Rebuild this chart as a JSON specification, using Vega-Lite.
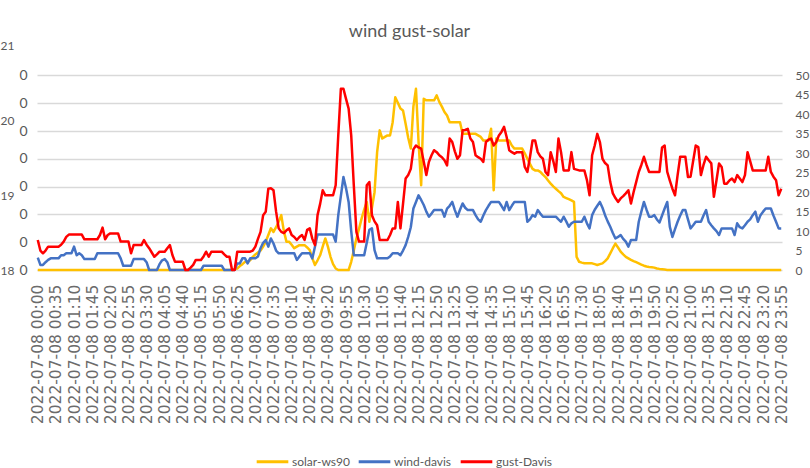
{
"$schema": "https://vega.github.io/schema/vega-lite/v6.json",
"width": 745, "height": 225,
"autosize": {"type": "none"},
"padding": {"left": 37, "top": 45, "right": 28, "bottom": 198},
"background": "white",
"title": {"text": "wind gust-solar", "font": "Lato", "fontSize": 18, "fontWeight": "normal", "color": "#595959", "anchor": "middle", "offset": -2},
"config": {"view": {"stroke": null}, "font": "Lato"},
"data": {"values": [
{"t":"2022-07-08 00:00","solar-ws90":0,"wind-davis":3.2,"gust-Davis":7.7},
{"t":"2022-07-08 00:05","solar-ws90":0,"wind-davis":1.3,"gust-Davis":5},
{"t":"2022-07-08 00:10","solar-ws90":0,"wind-davis":1.3,"gust-Davis":4.3},
{"t":"2022-07-08 00:15","solar-ws90":0,"wind-davis":2,"gust-Davis":5},
{"t":"2022-07-08 00:20","solar-ws90":0,"wind-davis":2.6,"gust-Davis":6},
{"t":"2022-07-08 00:25","solar-ws90":0,"wind-davis":3,"gust-Davis":6},
{"t":"2022-07-08 00:30","solar-ws90":0,"wind-davis":3,"gust-Davis":6},
{"t":"2022-07-08 00:35","solar-ws90":0,"wind-davis":3,"gust-Davis":6},
{"t":"2022-07-08 00:40","solar-ws90":0,"wind-davis":3,"gust-Davis":6},
{"t":"2022-07-08 00:45","solar-ws90":0,"wind-davis":3.8,"gust-Davis":6.5},
{"t":"2022-07-08 00:50","solar-ws90":0,"wind-davis":3.8,"gust-Davis":7.3},
{"t":"2022-07-08 00:55","solar-ws90":0,"wind-davis":4.3,"gust-Davis":8.5},
{"t":"2022-07-08 01:00","solar-ws90":0,"wind-davis":4.3,"gust-Davis":9.1},
{"t":"2022-07-08 01:05","solar-ws90":0,"wind-davis":4.3,"gust-Davis":9.1},
{"t":"2022-07-08 01:10","solar-ws90":0,"wind-davis":6,"gust-Davis":9.1},
{"t":"2022-07-08 01:15","solar-ws90":0,"wind-davis":3.8,"gust-Davis":9.1},
{"t":"2022-07-08 01:20","solar-ws90":0,"wind-davis":4.3,"gust-Davis":9.1},
{"t":"2022-07-08 01:25","solar-ws90":0,"wind-davis":3.8,"gust-Davis":9.1},
{"t":"2022-07-08 01:30","solar-ws90":0,"wind-davis":2.8,"gust-Davis":7.9},
{"t":"2022-07-08 01:35","solar-ws90":0,"wind-davis":2.8,"gust-Davis":7.9},
{"t":"2022-07-08 01:40","solar-ws90":0,"wind-davis":2.8,"gust-Davis":7.9},
{"t":"2022-07-08 01:45","solar-ws90":0,"wind-davis":2.8,"gust-Davis":7.9},
{"t":"2022-07-08 01:50","solar-ws90":0,"wind-davis":2.8,"gust-Davis":7.9},
{"t":"2022-07-08 01:55","solar-ws90":0,"wind-davis":4.3,"gust-Davis":7.9},
{"t":"2022-07-08 02:00","solar-ws90":0,"wind-davis":4.3,"gust-Davis":9},
{"t":"2022-07-08 02:05","solar-ws90":0,"wind-davis":4.3,"gust-Davis":10.9},
{"t":"2022-07-08 02:10","solar-ws90":0,"wind-davis":4.3,"gust-Davis":7.9},
{"t":"2022-07-08 02:15","solar-ws90":0,"wind-davis":4.3,"gust-Davis":9},
{"t":"2022-07-08 02:20","solar-ws90":0,"wind-davis":4.3,"gust-Davis":9.4},
{"t":"2022-07-08 02:25","solar-ws90":0,"wind-davis":4.3,"gust-Davis":9.4},
{"t":"2022-07-08 02:30","solar-ws90":0,"wind-davis":4.3,"gust-Davis":9.4},
{"t":"2022-07-08 02:35","solar-ws90":0,"wind-davis":4.3,"gust-Davis":9.4},
{"t":"2022-07-08 02:40","solar-ws90":0,"wind-davis":3,"gust-Davis":7.3},
{"t":"2022-07-08 02:45","solar-ws90":0,"wind-davis":1.1,"gust-Davis":7.3},
{"t":"2022-07-08 02:50","solar-ws90":0,"wind-davis":1.1,"gust-Davis":7.3},
{"t":"2022-07-08 02:55","solar-ws90":0,"wind-davis":1.1,"gust-Davis":7.3},
{"t":"2022-07-08 03:00","solar-ws90":0,"wind-davis":1.1,"gust-Davis":4.3},
{"t":"2022-07-08 03:05","solar-ws90":0,"wind-davis":2.8,"gust-Davis":6.4},
{"t":"2022-07-08 03:10","solar-ws90":0,"wind-davis":2.8,"gust-Davis":6.4},
{"t":"2022-07-08 03:15","solar-ws90":0,"wind-davis":2.8,"gust-Davis":6.4},
{"t":"2022-07-08 03:20","solar-ws90":0,"wind-davis":2.8,"gust-Davis":6.4},
{"t":"2022-07-08 03:25","solar-ws90":0,"wind-davis":2.8,"gust-Davis":7.7},
{"t":"2022-07-08 03:30","solar-ws90":0,"wind-davis":2,"gust-Davis":6.5},
{"t":"2022-07-08 03:35","solar-ws90":0,"wind-davis":0,"gust-Davis":5.6},
{"t":"2022-07-08 03:40","solar-ws90":0,"wind-davis":0,"gust-Davis":4.5},
{"t":"2022-07-08 03:45","solar-ws90":0,"wind-davis":0,"gust-Davis":3.4},
{"t":"2022-07-08 03:50","solar-ws90":0,"wind-davis":0,"gust-Davis":4},
{"t":"2022-07-08 03:55","solar-ws90":0,"wind-davis":1.5,"gust-Davis":4.7},
{"t":"2022-07-08 04:00","solar-ws90":0,"wind-davis":2.5,"gust-Davis":4.7},
{"t":"2022-07-08 04:05","solar-ws90":0,"wind-davis":2.8,"gust-Davis":4.7},
{"t":"2022-07-08 04:10","solar-ws90":0,"wind-davis":2,"gust-Davis":5.6},
{"t":"2022-07-08 04:15","solar-ws90":0,"wind-davis":0,"gust-Davis":6.4},
{"t":"2022-07-08 04:20","solar-ws90":0,"wind-davis":0,"gust-Davis":3.8},
{"t":"2022-07-08 04:25","solar-ws90":0,"wind-davis":0,"gust-Davis":2.1},
{"t":"2022-07-08 04:30","solar-ws90":0,"wind-davis":0,"gust-Davis":2.1},
{"t":"2022-07-08 04:35","solar-ws90":0,"wind-davis":0,"gust-Davis":2.1},
{"t":"2022-07-08 04:40","solar-ws90":0,"wind-davis":0,"gust-Davis":2.1},
{"t":"2022-07-08 04:45","solar-ws90":0,"wind-davis":0,"gust-Davis":0},
{"t":"2022-07-08 04:50","solar-ws90":0,"wind-davis":0,"gust-Davis":0},
{"t":"2022-07-08 04:55","solar-ws90":0,"wind-davis":0,"gust-Davis":0.6},
{"t":"2022-07-08 05:00","solar-ws90":0,"wind-davis":0,"gust-Davis":1.3},
{"t":"2022-07-08 05:05","solar-ws90":0,"wind-davis":0,"gust-Davis":2.6},
{"t":"2022-07-08 05:10","solar-ws90":0,"wind-davis":0,"gust-Davis":2.6},
{"t":"2022-07-08 05:15","solar-ws90":0,"wind-davis":0,"gust-Davis":2.6},
{"t":"2022-07-08 05:20","solar-ws90":0,"wind-davis":1.1,"gust-Davis":3.5},
{"t":"2022-07-08 05:25","solar-ws90":0,"wind-davis":1.1,"gust-Davis":4.7},
{"t":"2022-07-08 05:30","solar-ws90":0,"wind-davis":1.1,"gust-Davis":3.4},
{"t":"2022-07-08 05:35","solar-ws90":0,"wind-davis":1.1,"gust-Davis":4.7},
{"t":"2022-07-08 05:40","solar-ws90":0,"wind-davis":1.1,"gust-Davis":4.7},
{"t":"2022-07-08 05:45","solar-ws90":0,"wind-davis":1.1,"gust-Davis":4.7},
{"t":"2022-07-08 05:50","solar-ws90":0,"wind-davis":1.1,"gust-Davis":4.7},
{"t":"2022-07-08 05:55","solar-ws90":0,"wind-davis":1.1,"gust-Davis":4.7},
{"t":"2022-07-08 06:00","solar-ws90":0,"wind-davis":0,"gust-Davis":4},
{"t":"2022-07-08 06:05","solar-ws90":0,"wind-davis":0,"gust-Davis":3.4},
{"t":"2022-07-08 06:10","solar-ws90":0,"wind-davis":0,"gust-Davis":3.4},
{"t":"2022-07-08 06:15","solar-ws90":0,"wind-davis":0,"gust-Davis":0},
{"t":"2022-07-08 06:20","solar-ws90":6,"wind-davis":0,"gust-Davis":0},
{"t":"2022-07-08 06:25","solar-ws90":11,"wind-davis":1.7,"gust-Davis":4.7},
{"t":"2022-07-08 06:30","solar-ws90":28,"wind-davis":1.7,"gust-Davis":4.7},
{"t":"2022-07-08 06:35","solar-ws90":42,"wind-davis":3,"gust-Davis":4.7},
{"t":"2022-07-08 06:40","solar-ws90":59,"wind-davis":3,"gust-Davis":4.7},
{"t":"2022-07-08 06:45","solar-ws90":59,"wind-davis":1.7,"gust-Davis":4.7},
{"t":"2022-07-08 06:50","solar-ws90":70,"wind-davis":3,"gust-Davis":4.7},
{"t":"2022-07-08 06:55","solar-ws90":95,"wind-davis":3,"gust-Davis":5},
{"t":"2022-07-08 07:00","solar-ws90":112,"wind-davis":3,"gust-Davis":6},
{"t":"2022-07-08 07:05","solar-ws90":126,"wind-davis":3.5,"gust-Davis":8},
{"t":"2022-07-08 07:10","solar-ws90":140,"wind-davis":5.6,"gust-Davis":9.8},
{"t":"2022-07-08 07:15","solar-ws90":168,"wind-davis":7,"gust-Davis":14.1},
{"t":"2022-07-08 07:20","solar-ws90":204,"wind-davis":7.7,"gust-Davis":15},
{"t":"2022-07-08 07:25","solar-ws90":252,"wind-davis":6,"gust-Davis":20.9},
{"t":"2022-07-08 07:30","solar-ws90":300,"wind-davis":8.1,"gust-Davis":21},
{"t":"2022-07-08 07:35","solar-ws90":274,"wind-davis":6.8,"gust-Davis":20.5},
{"t":"2022-07-08 07:40","solar-ws90":308,"wind-davis":5,"gust-Davis":15},
{"t":"2022-07-08 07:45","solar-ws90":347,"wind-davis":4.3,"gust-Davis":10.7},
{"t":"2022-07-08 07:50","solar-ws90":395,"wind-davis":4.3,"gust-Davis":9.8},
{"t":"2022-07-08 07:55","solar-ws90":280,"wind-davis":4.3,"gust-Davis":9.5},
{"t":"2022-07-08 08:00","solar-ws90":204,"wind-davis":4.3,"gust-Davis":10.2},
{"t":"2022-07-08 08:05","solar-ws90":204,"wind-davis":4.3,"gust-Davis":10.7},
{"t":"2022-07-08 08:10","solar-ws90":182,"wind-davis":4.3,"gust-Davis":9},
{"t":"2022-07-08 08:15","solar-ws90":157,"wind-davis":4.3,"gust-Davis":8.5},
{"t":"2022-07-08 08:20","solar-ws90":168,"wind-davis":2.6,"gust-Davis":7.7},
{"t":"2022-07-08 08:25","solar-ws90":179,"wind-davis":3.5,"gust-Davis":8.5},
{"t":"2022-07-08 08:30","solar-ws90":179,"wind-davis":4.3,"gust-Davis":9},
{"t":"2022-07-08 08:35","solar-ws90":179,"wind-davis":4.3,"gust-Davis":7.7},
{"t":"2022-07-08 08:40","solar-ws90":162,"wind-davis":4.3,"gust-Davis":10.3},
{"t":"2022-07-08 08:45","solar-ws90":143,"wind-davis":4.3,"gust-Davis":10.7},
{"t":"2022-07-08 08:50","solar-ws90":84,"wind-davis":3,"gust-Davis":8},
{"t":"2022-07-08 08:55","solar-ws90":36,"wind-davis":6,"gust-Davis":6.4},
{"t":"2022-07-08 09:00","solar-ws90":70,"wind-davis":9.1,"gust-Davis":14.1},
{"t":"2022-07-08 09:05","solar-ws90":106,"wind-davis":9.1,"gust-Davis":17},
{"t":"2022-07-08 09:10","solar-ws90":168,"wind-davis":9.1,"gust-Davis":20.5},
{"t":"2022-07-08 09:15","solar-ws90":227,"wind-davis":9.1,"gust-Davis":19.2},
{"t":"2022-07-08 09:20","solar-ws90":168,"wind-davis":9.1,"gust-Davis":19.2},
{"t":"2022-07-08 09:25","solar-ws90":95,"wind-davis":9.1,"gust-Davis":19.2},
{"t":"2022-07-08 09:30","solar-ws90":42,"wind-davis":9.1,"gust-Davis":19.2},
{"t":"2022-07-08 09:35","solar-ws90":11,"wind-davis":7.3,"gust-Davis":21.8},
{"t":"2022-07-08 09:40","solar-ws90":0,"wind-davis":14.1,"gust-Davis":34.6},
{"t":"2022-07-08 09:45","solar-ws90":0,"wind-davis":19,"gust-Davis":46.6},
{"t":"2022-07-08 09:50","solar-ws90":0,"wind-davis":23.9,"gust-Davis":46.6},
{"t":"2022-07-08 09:55","solar-ws90":0,"wind-davis":21,"gust-Davis":44},
{"t":"2022-07-08 10:00","solar-ws90":0,"wind-davis":17.5,"gust-Davis":41.5},
{"t":"2022-07-08 10:05","solar-ws90":59,"wind-davis":10,"gust-Davis":34.6},
{"t":"2022-07-08 10:10","solar-ws90":140,"wind-davis":3.8,"gust-Davis":21.8},
{"t":"2022-07-08 10:15","solar-ws90":227,"wind-davis":3.8,"gust-Davis":9.8},
{"t":"2022-07-08 10:20","solar-ws90":294,"wind-davis":3.8,"gust-Davis":7.3},
{"t":"2022-07-08 10:25","solar-ws90":370,"wind-davis":3.8,"gust-Davis":7.3},
{"t":"2022-07-08 10:30","solar-ws90":434,"wind-davis":3.8,"gust-Davis":7.3},
{"t":"2022-07-08 10:35","solar-ws90":490,"wind-davis":7,"gust-Davis":21.8},
{"t":"2022-07-08 10:40","solar-ws90":347,"wind-davis":10.3,"gust-Davis":22.6},
{"t":"2022-07-08 10:45","solar-ws90":448,"wind-davis":10.7,"gust-Davis":14.1},
{"t":"2022-07-08 10:50","solar-ws90":560,"wind-davis":5.1,"gust-Davis":12.5},
{"t":"2022-07-08 10:55","solar-ws90":848,"wind-davis":3,"gust-Davis":11.5},
{"t":"2022-07-08 11:00","solar-ws90":1005,"wind-davis":3,"gust-Davis":7.7},
{"t":"2022-07-08 11:05","solar-ws90":946,"wind-davis":3,"gust-Davis":7.7},
{"t":"2022-07-08 11:10","solar-ws90":958,"wind-davis":3,"gust-Davis":7.7},
{"t":"2022-07-08 11:15","solar-ws90":969,"wind-davis":3,"gust-Davis":7.7},
{"t":"2022-07-08 11:20","solar-ws90":969,"wind-davis":3.5,"gust-Davis":9},
{"t":"2022-07-08 11:25","solar-ws90":1064,"wind-davis":4.3,"gust-Davis":10.7},
{"t":"2022-07-08 11:30","solar-ws90":1243,"wind-davis":4.3,"gust-Davis":10.7},
{"t":"2022-07-08 11:35","solar-ws90":1204,"wind-davis":4.3,"gust-Davis":17.5},
{"t":"2022-07-08 11:40","solar-ws90":1162,"wind-davis":3.8,"gust-Davis":10.7},
{"t":"2022-07-08 11:45","solar-ws90":1148,"wind-davis":5,"gust-Davis":17},
{"t":"2022-07-08 11:50","solar-ws90":1053,"wind-davis":6.4,"gust-Davis":23.5},
{"t":"2022-07-08 11:55","solar-ws90":952,"wind-davis":8.5,"gust-Davis":24.4},
{"t":"2022-07-08 12:00","solar-ws90":874,"wind-davis":11,"gust-Davis":26},
{"t":"2022-07-08 12:05","solar-ws90":1176,"wind-davis":15.8,"gust-Davis":31},
{"t":"2022-07-08 12:10","solar-ws90":1305,"wind-davis":17.5,"gust-Davis":32},
{"t":"2022-07-08 12:15","solar-ws90":921,"wind-davis":19.2,"gust-Davis":31.5},
{"t":"2022-07-08 12:20","solar-ws90":610,"wind-davis":18,"gust-Davis":31.2},
{"t":"2022-07-08 12:25","solar-ws90":1232,"wind-davis":16.7,"gust-Davis":27.8},
{"t":"2022-07-08 12:30","solar-ws90":1221,"wind-davis":15,"gust-Davis":24.4},
{"t":"2022-07-08 12:35","solar-ws90":1221,"wind-davis":13.7,"gust-Davis":27.8},
{"t":"2022-07-08 12:40","solar-ws90":1221,"wind-davis":14.5,"gust-Davis":29.5},
{"t":"2022-07-08 12:45","solar-ws90":1221,"wind-davis":15.4,"gust-Davis":30.8},
{"t":"2022-07-08 12:50","solar-ws90":1257,"wind-davis":15.4,"gust-Davis":30.3},
{"t":"2022-07-08 12:55","solar-ws90":1210,"wind-davis":15.4,"gust-Davis":29.5},
{"t":"2022-07-08 13:00","solar-ws90":1176,"wind-davis":15.4,"gust-Davis":29},
{"t":"2022-07-08 13:05","solar-ws90":1137,"wind-davis":13.7,"gust-Davis":28.2},
{"t":"2022-07-08 13:10","solar-ws90":1112,"wind-davis":15.8,"gust-Davis":26.9},
{"t":"2022-07-08 13:15","solar-ws90":1064,"wind-davis":16.5,"gust-Davis":33.8},
{"t":"2022-07-08 13:20","solar-ws90":1064,"wind-davis":17.5,"gust-Davis":32.9},
{"t":"2022-07-08 13:25","solar-ws90":1064,"wind-davis":15.4,"gust-Davis":30.5},
{"t":"2022-07-08 13:30","solar-ws90":1064,"wind-davis":13.7,"gust-Davis":28.6},
{"t":"2022-07-08 13:35","solar-ws90":1064,"wind-davis":15.5,"gust-Davis":29.5},
{"t":"2022-07-08 13:40","solar-ws90":980,"wind-davis":17.1,"gust-Davis":35.9},
{"t":"2022-07-08 13:45","solar-ws90":980,"wind-davis":16,"gust-Davis":36},
{"t":"2022-07-08 13:50","solar-ws90":980,"wind-davis":15.4,"gust-Davis":36.3},
{"t":"2022-07-08 13:55","solar-ws90":980,"wind-davis":15.4,"gust-Davis":33.8},
{"t":"2022-07-08 14:00","solar-ws90":980,"wind-davis":15.4,"gust-Davis":32.9},
{"t":"2022-07-08 14:05","solar-ws90":980,"wind-davis":14.1,"gust-Davis":29.5},
{"t":"2022-07-08 14:10","solar-ws90":969,"wind-davis":13,"gust-Davis":29},
{"t":"2022-07-08 14:15","solar-ws90":958,"wind-davis":12.4,"gust-Davis":28.6},
{"t":"2022-07-08 14:20","solar-ws90":932,"wind-davis":14,"gust-Davis":27.8},
{"t":"2022-07-08 14:25","solar-ws90":932,"wind-davis":15.4,"gust-Davis":32.9},
{"t":"2022-07-08 14:30","solar-ws90":932,"wind-davis":16.5,"gust-Davis":33.5},
{"t":"2022-07-08 14:35","solar-ws90":1016,"wind-davis":17.5,"gust-Davis":33.8},
{"t":"2022-07-08 14:40","solar-ws90":574,"wind-davis":17.5,"gust-Davis":32},
{"t":"2022-07-08 14:45","solar-ws90":946,"wind-davis":17.5,"gust-Davis":32.9},
{"t":"2022-07-08 14:50","solar-ws90":932,"wind-davis":17.5,"gust-Davis":34.6},
{"t":"2022-07-08 14:55","solar-ws90":932,"wind-davis":16.5,"gust-Davis":35.5},
{"t":"2022-07-08 15:00","solar-ws90":932,"wind-davis":15.4,"gust-Davis":36.8},
{"t":"2022-07-08 15:05","solar-ws90":932,"wind-davis":17.5,"gust-Davis":34.2},
{"t":"2022-07-08 15:10","solar-ws90":932,"wind-davis":15.4,"gust-Davis":30.8},
{"t":"2022-07-08 15:15","solar-ws90":896,"wind-davis":16.5,"gust-Davis":30.3},
{"t":"2022-07-08 15:20","solar-ws90":874,"wind-davis":17.5,"gust-Davis":29.9},
{"t":"2022-07-08 15:25","solar-ws90":874,"wind-davis":17.5,"gust-Davis":30.3},
{"t":"2022-07-08 15:30","solar-ws90":874,"wind-davis":17.5,"gust-Davis":30.3},
{"t":"2022-07-08 15:35","solar-ws90":874,"wind-davis":17.5,"gust-Davis":30.3},
{"t":"2022-07-08 15:40","solar-ws90":840,"wind-davis":17.5,"gust-Davis":26.5},
{"t":"2022-07-08 15:45","solar-ws90":801,"wind-davis":12.4,"gust-Davis":25.2},
{"t":"2022-07-08 15:50","solar-ws90":764,"wind-davis":13,"gust-Davis":29},
{"t":"2022-07-08 15:55","solar-ws90":728,"wind-davis":14.1,"gust-Davis":33.3},
{"t":"2022-07-08 16:00","solar-ws90":717,"wind-davis":13.7,"gust-Davis":33.3},
{"t":"2022-07-08 16:05","solar-ws90":717,"wind-davis":15.4,"gust-Davis":30.3},
{"t":"2022-07-08 16:10","solar-ws90":706,"wind-davis":14.5,"gust-Davis":29.2},
{"t":"2022-07-08 16:15","solar-ws90":686,"wind-davis":13.7,"gust-Davis":28.6},
{"t":"2022-07-08 16:20","solar-ws90":669,"wind-davis":13.7,"gust-Davis":25.2},
{"t":"2022-07-08 16:25","solar-ws90":644,"wind-davis":13.7,"gust-Davis":24.4},
{"t":"2022-07-08 16:30","solar-ws90":622,"wind-davis":13.7,"gust-Davis":30.3},
{"t":"2022-07-08 16:35","solar-ws90":602,"wind-davis":13.7,"gust-Davis":28},
{"t":"2022-07-08 16:40","solar-ws90":585,"wind-davis":13.7,"gust-Davis":25.2},
{"t":"2022-07-08 16:45","solar-ws90":568,"wind-davis":13,"gust-Davis":33.8},
{"t":"2022-07-08 16:50","solar-ws90":552,"wind-davis":12.4,"gust-Davis":30.3},
{"t":"2022-07-08 16:55","solar-ws90":526,"wind-davis":13.7,"gust-Davis":25.6},
{"t":"2022-07-08 17:00","solar-ws90":518,"wind-davis":12.5,"gust-Davis":25.6},
{"t":"2022-07-08 17:05","solar-ws90":510,"wind-davis":11.1,"gust-Davis":25.6},
{"t":"2022-07-08 17:10","solar-ws90":501,"wind-davis":12,"gust-Davis":30.3},
{"t":"2022-07-08 17:15","solar-ws90":490,"wind-davis":12.4,"gust-Davis":26},
{"t":"2022-07-08 17:20","solar-ws90":95,"wind-davis":12.4,"gust-Davis":25.8},
{"t":"2022-07-08 17:25","solar-ws90":59,"wind-davis":12.4,"gust-Davis":25.6},
{"t":"2022-07-08 17:30","solar-ws90":53,"wind-davis":12.4,"gust-Davis":25.6},
{"t":"2022-07-08 17:35","solar-ws90":48,"wind-davis":13.7,"gust-Davis":25.6},
{"t":"2022-07-08 17:40","solar-ws90":48,"wind-davis":12,"gust-Davis":23.1},
{"t":"2022-07-08 17:45","solar-ws90":48,"wind-davis":10.7,"gust-Davis":19.2},
{"t":"2022-07-08 17:50","solar-ws90":48,"wind-davis":14.1,"gust-Davis":29.5},
{"t":"2022-07-08 17:55","solar-ws90":42,"wind-davis":15.5,"gust-Davis":32},
{"t":"2022-07-08 18:00","solar-ws90":36,"wind-davis":16.5,"gust-Davis":35},
{"t":"2022-07-08 18:05","solar-ws90":42,"wind-davis":17.5,"gust-Davis":32.9},
{"t":"2022-07-08 18:10","solar-ws90":48,"wind-davis":16,"gust-Davis":28.6},
{"t":"2022-07-08 18:15","solar-ws90":64,"wind-davis":14.1,"gust-Davis":27.5},
{"t":"2022-07-08 18:20","solar-ws90":84,"wind-davis":12.5,"gust-Davis":26.9},
{"t":"2022-07-08 18:25","solar-ws90":120,"wind-davis":11.1,"gust-Davis":22.6},
{"t":"2022-07-08 18:30","solar-ws90":157,"wind-davis":9.5,"gust-Davis":19.7},
{"t":"2022-07-08 18:35","solar-ws90":190,"wind-davis":8.1,"gust-Davis":18.5},
{"t":"2022-07-08 18:40","solar-ws90":162,"wind-davis":8.5,"gust-Davis":17.5},
{"t":"2022-07-08 18:45","solar-ws90":132,"wind-davis":9,"gust-Davis":18.4},
{"t":"2022-07-08 18:50","solar-ws90":112,"wind-davis":8,"gust-Davis":19},
{"t":"2022-07-08 18:55","solar-ws90":95,"wind-davis":7.3,"gust-Davis":19.7},
{"t":"2022-07-08 19:00","solar-ws90":84,"wind-davis":6,"gust-Davis":20.5},
{"t":"2022-07-08 19:05","solar-ws90":73,"wind-davis":7.7,"gust-Davis":17.1},
{"t":"2022-07-08 19:10","solar-ws90":64,"wind-davis":7.7,"gust-Davis":20},
{"t":"2022-07-08 19:15","solar-ws90":56,"wind-davis":7.7,"gust-Davis":22.6},
{"t":"2022-07-08 19:20","solar-ws90":48,"wind-davis":12.4,"gust-Davis":25.2},
{"t":"2022-07-08 19:25","solar-ws90":39,"wind-davis":15,"gust-Davis":27},
{"t":"2022-07-08 19:30","solar-ws90":31,"wind-davis":17.5,"gust-Davis":29.1},
{"t":"2022-07-08 19:35","solar-ws90":25,"wind-davis":15.5,"gust-Davis":27},
{"t":"2022-07-08 19:40","solar-ws90":22,"wind-davis":13.7,"gust-Davis":25.2},
{"t":"2022-07-08 19:45","solar-ws90":20,"wind-davis":13.7,"gust-Davis":25.2},
{"t":"2022-07-08 19:50","solar-ws90":17,"wind-davis":14.1,"gust-Davis":25.2},
{"t":"2022-07-08 19:55","solar-ws90":11,"wind-davis":13,"gust-Davis":25.2},
{"t":"2022-07-08 20:00","solar-ws90":8,"wind-davis":12.2,"gust-Davis":25.2},
{"t":"2022-07-08 20:05","solar-ws90":6,"wind-davis":14,"gust-Davis":31.5},
{"t":"2022-07-08 20:10","solar-ws90":3,"wind-davis":15.8,"gust-Davis":32},
{"t":"2022-07-08 20:15","solar-ws90":0,"wind-davis":17.5,"gust-Davis":25.2},
{"t":"2022-07-08 20:20","solar-ws90":0,"wind-davis":11.1,"gust-Davis":23},
{"t":"2022-07-08 20:25","solar-ws90":0,"wind-davis":8.5,"gust-Davis":20.9},
{"t":"2022-07-08 20:30","solar-ws90":0,"wind-davis":10.5,"gust-Davis":19.2},
{"t":"2022-07-08 20:35","solar-ws90":0,"wind-davis":12.4,"gust-Davis":24.4},
{"t":"2022-07-08 20:40","solar-ws90":0,"wind-davis":14,"gust-Davis":29.1},
{"t":"2022-07-08 20:45","solar-ws90":0,"wind-davis":15.4,"gust-Davis":29.1},
{"t":"2022-07-08 20:50","solar-ws90":0,"wind-davis":15.4,"gust-Davis":29.1},
{"t":"2022-07-08 20:55","solar-ws90":0,"wind-davis":13,"gust-Davis":23.9},
{"t":"2022-07-08 21:00","solar-ws90":0,"wind-davis":10.7,"gust-Davis":24},
{"t":"2022-07-08 21:05","solar-ws90":0,"wind-davis":11.5,"gust-Davis":28},
{"t":"2022-07-08 21:10","solar-ws90":0,"wind-davis":12.4,"gust-Davis":32},
{"t":"2022-07-08 21:15","solar-ws90":0,"wind-davis":12.4,"gust-Davis":31.6},
{"t":"2022-07-08 21:20","solar-ws90":0,"wind-davis":12.4,"gust-Davis":24.4},
{"t":"2022-07-08 21:25","solar-ws90":0,"wind-davis":14,"gust-Davis":27},
{"t":"2022-07-08 21:30","solar-ws90":0,"wind-davis":15.4,"gust-Davis":29.1},
{"t":"2022-07-08 21:35","solar-ws90":0,"wind-davis":12.4,"gust-Davis":28.2},
{"t":"2022-07-08 21:40","solar-ws90":0,"wind-davis":11.5,"gust-Davis":27.4},
{"t":"2022-07-08 21:45","solar-ws90":0,"wind-davis":10.7,"gust-Davis":18.8},
{"t":"2022-07-08 21:50","solar-ws90":0,"wind-davis":10,"gust-Davis":23},
{"t":"2022-07-08 21:55","solar-ws90":0,"wind-davis":9,"gust-Davis":27.4},
{"t":"2022-07-08 22:00","solar-ws90":0,"wind-davis":10.7,"gust-Davis":26.5},
{"t":"2022-07-08 22:05","solar-ws90":0,"wind-davis":10.7,"gust-Davis":22.2},
{"t":"2022-07-08 22:10","solar-ws90":0,"wind-davis":10.7,"gust-Davis":22.2},
{"t":"2022-07-08 22:15","solar-ws90":0,"wind-davis":10.7,"gust-Davis":23},
{"t":"2022-07-08 22:20","solar-ws90":0,"wind-davis":10.7,"gust-Davis":23.5},
{"t":"2022-07-08 22:25","solar-ws90":0,"wind-davis":9,"gust-Davis":22.6},
{"t":"2022-07-08 22:30","solar-ws90":0,"wind-davis":12,"gust-Davis":24.4},
{"t":"2022-07-08 22:35","solar-ws90":0,"wind-davis":11,"gust-Davis":23.5},
{"t":"2022-07-08 22:40","solar-ws90":0,"wind-davis":10.7,"gust-Davis":22.6},
{"t":"2022-07-08 22:45","solar-ws90":0,"wind-davis":11.5,"gust-Davis":24.4},
{"t":"2022-07-08 22:50","solar-ws90":0,"wind-davis":12.4,"gust-Davis":30.3},
{"t":"2022-07-08 22:55","solar-ws90":0,"wind-davis":13,"gust-Davis":28},
{"t":"2022-07-08 23:00","solar-ws90":0,"wind-davis":14.1,"gust-Davis":25.6},
{"t":"2022-07-08 23:05","solar-ws90":0,"wind-davis":15,"gust-Davis":25.6},
{"t":"2022-07-08 23:10","solar-ws90":0,"wind-davis":12.4,"gust-Davis":25.6},
{"t":"2022-07-08 23:15","solar-ws90":0,"wind-davis":14.1,"gust-Davis":25.6},
{"t":"2022-07-08 23:20","solar-ws90":0,"wind-davis":15,"gust-Davis":25.6},
{"t":"2022-07-08 23:25","solar-ws90":0,"wind-davis":15.8,"gust-Davis":25.6},
{"t":"2022-07-08 23:30","solar-ws90":0,"wind-davis":15.8,"gust-Davis":29.1},
{"t":"2022-07-08 23:35","solar-ws90":0,"wind-davis":15.8,"gust-Davis":25.2},
{"t":"2022-07-08 23:40","solar-ws90":0,"wind-davis":14,"gust-Davis":24},
{"t":"2022-07-08 23:45","solar-ws90":0,"wind-davis":12.4,"gust-Davis":23.1},
{"t":"2022-07-08 23:50","solar-ws90":0,"wind-davis":10.7,"gust-Davis":19.2},
{"t":"2022-07-08 23:55","solar-ws90":0,"wind-davis":10.7,"gust-Davis":20.9}
]},
"layer": [
{
"transform": [{"fold": ["solar-ws90","wind-davis","gust-Davis"], "as": ["series","value"]}, {"filter": "datum.series === 'solar-ws90'"}],
"mark": {"type": "line", "strokeWidth": 2.5, "strokeJoin": "round"},
"encoding": {
"x": {"field": "t", "type": "ordinal", "scale": {"type": "point", "padding": 0.3},
"axis": {"values": ["2022-07-08 00:00","2022-07-08 00:35","2022-07-08 01:10","2022-07-08 01:45","2022-07-08 02:20","2022-07-08 02:55","2022-07-08 03:30","2022-07-08 04:05","2022-07-08 04:40","2022-07-08 05:15","2022-07-08 05:50","2022-07-08 06:25","2022-07-08 07:00","2022-07-08 07:35","2022-07-08 08:10","2022-07-08 08:45","2022-07-08 09:20","2022-07-08 09:55","2022-07-08 10:30","2022-07-08 11:05","2022-07-08 11:40","2022-07-08 12:15","2022-07-08 12:50","2022-07-08 13:25","2022-07-08 14:00","2022-07-08 14:35","2022-07-08 15:10","2022-07-08 15:45","2022-07-08 16:20","2022-07-08 16:55","2022-07-08 17:30","2022-07-08 18:05","2022-07-08 18:40","2022-07-08 19:15","2022-07-08 19:50","2022-07-08 20:25","2022-07-08 21:00","2022-07-08 21:35","2022-07-08 22:10","2022-07-08 22:45","2022-07-08 23:20","2022-07-08 23:55"],
"labelAngle": 270, "labelFont": "DejaVu Sans", "labelFontSize": 15.5, "labelColor": "#6b6b6b", "ticks": false, "domain": false, "grid": false, "title": null, "labelPadding": 14, "labelOverlap": false, "labelBound": false}},
"y": {"field": "value", "type": "quantitative", "scale": {"domain": [0, 1619.5], "nice": false, "zero": true},
"axis": {"orient": "left", "values": [0,200,400,600,800,1000,1200,1400], "grid": true, "gridColor": "#d9d9d9", "gridWidth": 1.3, "ticks": false, "domain": false, "title": null, "labelExpr": "slice(datum.label, -1)", "labelPadding": 10, "labelFont": "Lato", "labelFontSize": 14, "labelColor": "#595959"}},
"color": {"field": "series", "type": "nominal", "scale": {"domain": ["solar-ws90","wind-davis","gust-Davis"], "range": ["#FFC000","#4472C4","#FF0000"]},
"legend": {"orient": "none", "legendX": 218, "legendY": 399, "direction": "horizontal", "title": null, "symbolType": "stroke", "symbolSize": 1000, "symbolStrokeWidth": 3, "labelFont": "Lato", "labelFontSize": 12, "labelColor": "#595959", "columnPadding": 2, "labelOffset": 2, "padding": 0}}
}
},
{
"transform": [{"fold": ["solar-ws90","wind-davis","gust-Davis"], "as": ["series","value"]}, {"filter": "datum.series !== 'solar-ws90'"}],
"mark": {"type": "line", "strokeWidth": 2.5, "strokeJoin": "round"},
"encoding": {
"x": {"field": "t", "type": "ordinal"},
"y": {"field": "value", "type": "quantitative", "scale": {"domain": [0, 57.84], "nice": false, "zero": true},
"axis": {"orient": "right", "values": [0,5,10,15,20,25,30,35,40,45,50], "grid": false, "ticks": false, "domain": false, "title": null, "labelPadding": 13, "labelFont": "Lato", "labelFontSize": 12, "labelColor": "#595959"}},
"color": {"field": "series", "type": "nominal"}
}
},
{
"data": {"values": [{"v": 18}, {"v": 21}]},
"mark": {"type": "point", "opacity": 0},
"encoding": {
"y": {"field": "v", "type": "quantitative", "scale": {"domain": [18, 21], "nice": false, "zero": false},
"axis": {"orient": "left", "values": [18,19,20,21], "offset": 23, "grid": false, "ticks": false, "domain": false, "title": null, "labelPadding": 0, "labelFont": "Lato", "labelFontSize": 12, "labelColor": "#595959"}}
}
}
],
"resolve": {"scale": {"y": "independent"}, "axis": {"y": "independent"}}
}
